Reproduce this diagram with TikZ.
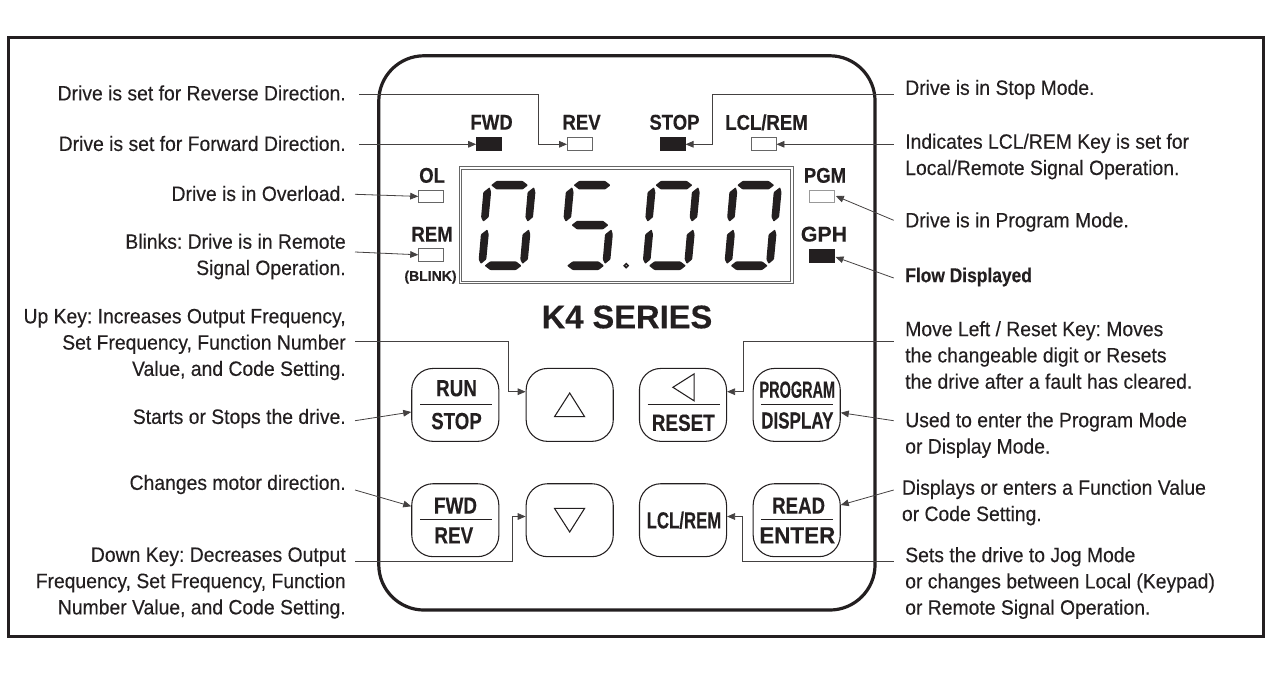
\documentclass[tikz,border=0pt]{standalone}
\usepackage{fontspec}
\setmainfont[FakeStretch=0.93,FakeBold=0.25]{Liberation Sans}
\newfontfamily\widefont[FakeBold=0.3]{Liberation Sans}
\newfontfamily\ledfont[FakeStretch=0.87,FakeBold=0.3]{Liberation Sans}
\usetikzlibrary{positioning,arrows.meta}
\definecolor{ink}{HTML}{231F20}
\newcommand{\sq}[2]{\scalebox{#1}[1]{#2}}
\frenchspacing
\tikzset{
    note/.style={inner sep=0pt,text=ink,font=\fontsize{15.6}{19.7}\selectfont},
    noteL/.style={note,anchor=east,align=right},
    noteR/.style={note,anchor=west,align=left},
    led/.style={draw=black!60,line width=0.6pt,fill=white,minimum width=18.7pt,minimum height=9.6pt,inner sep=0pt},
    ledon/.style={led,draw=ink,fill=ink},
    ledtext/.style={inner sep=0pt,text=ink,font=\ledfont\bfseries\fontsize{16}{16}\selectfont},
    keybox/.style={draw=ink,line width=0.8pt,rounded corners=16pt,minimum width=65.3pt,minimum height=54.7pt,inner sep=0pt},
    keytext/.style={inner sep=0pt,text=ink,font=\widefont\bfseries\fontsize{17.5}{17.5}\selectfont},
    conn/.style={draw=ink!85,line width=0.6pt,-{Triangle[length=6pt,width=5pt]}},
    hseg/.pic={\fill[ink,rounded corners=0.6pt] (-18.5,0) -- (-13,-4.3) -- (13,-4.3) -- (18.5,0) -- (13,4.3) -- (-13,4.3) -- cycle;},
    vseg/.pic={\fill[ink,rounded corners=0.6pt] (3.8,-17) -- (5.2,-12) -- (2.8,13) -- (-2.6,17.5) -- (-4.8,13) -- (-2.6,-12) -- cycle;}
}
\begin{document}
\begin{tikzpicture}[x=0.75pt,y=-0.75pt]
        \useasboundingbox (0,0) rectangle (1271,681);
        \node (frame) at (636.2,337) [draw=ink,line width=2.2pt,minimum width=941.5pt,minimum height=449pt,inner sep=0pt] {};
        \node (panel) at (626.9,332.9) [draw=ink,line width=2.4pt,rounded corners=34pt,minimum width=372.2pt,minimum height=415.7pt,inner sep=0pt] {};
        \node (display) at (626.2,225.4) [draw=black!60,line width=0.7pt,double=white,double distance=1.2pt,minimum width=248.5pt,minimum height=85.8pt,inner sep=0pt] {};

        \foreach \dx in {0,82.5,164.3,246.1} {
            \foreach \px/\py in {509.6/185.2,503.1/265.7}
                \pic at ({\dx+\px},\py) {hseg};
            \foreach \px/\py in {485.9/204.2,525.1/246.4}
                \pic at ({\dx+\px},\py) {vseg};
        }
        \foreach \dx in {0,164.3,246.1} {
            \foreach \px/\py in {530.2/204.2,483.5/246.4}
                \pic at ({\dx+\px},\py) {vseg};
        }
        \pic at (590,225.1) {hseg};
        \draw[ink,line width=1.2pt] (626.2,265.7) circle (1.9);

        \node (fwd) at (489,144.3) [ledon] {};
        \node (rev) at (579.9,144.3) [led] {};
        \node (stop) at (672.7,144.3) [ledon] {};
        \node (lclrem) at (763.6,144.3) [led] {};
        \node (ol) at (431.1,196.4) [led] {};
        \node (rem) at (431.1,254.8) [led] {};
        \node (pgm) at (821.9,196.4) [led,draw=black!40] {};
        \node (gph) at (821.9,255.5) [ledon] {};

        \node (fwdtxt) at (491.6,122.3) [ledtext] {FWD};
        \node (revtxt) at (581.6,122.3) [ledtext] {REV};
        \node (stoptxt) at (674.5,122.3) [ledtext] {STOP};
        \node (lcltxt) at (766.5,122.3) [ledtext] {LCL/REM};
        \node (oltxt) at (432.1,175.4) [ledtext] {OL};
        \node (remtxt) at (432.1,234.2) [ledtext] {REM};
        \node (blinktxt) at (430.5,277.2) [inner sep=0pt,text=ink,font=\widefont\bfseries\fontsize{10.5}{10.5}\selectfont] {(BLINK)};
        \node (pgmtxt) at (825,175.4) [ledtext] {PGM};
        \node (gphtxt) at (824,234.2) [ledtext] {\sq{1.15}{GPH}};
        \node (series) at (627,317) [inner sep=0pt,text=ink,font=\widefont\bfseries\fontsize{24.5}{24.5}\selectfont] {K4 SERIES};

        \node (run) at (455.3,404.9) [keybox] {};
        \node (up) at (569.7,404.9) [keybox] {};
        \node (reset) at (683,404.9) [keybox] {};
        \node (program) at (796.7,404.9) [keybox] {};
        \node (dir) at (455.3,520.2) [keybox] {};
        \node (down) at (569.7,520.2) [keybox] {};
        \node (lclkey) at (683,520.2) [keybox] {};
        \node (read) at (796.7,520.2) [keybox] {};

        \foreach \kx/\ky in {456/404.2,683.5/404.2,797.2/404.2,456/519.8,797.2/519.8}
            \draw[ink,line width=0.5pt] ({\kx-36},\ky) -- ({\kx+36},\ky);
        \draw[ink,line width=0.8pt] (569.7,393) -- (584.6,416.7) -- (554.5,416.7) -- cycle;
        \draw[ink,line width=0.8pt] (569.7,532) -- (584.6,508.4) -- (554.5,508.4) -- cycle;
        \draw[ink,line width=0.8pt] (672.9,387.3) -- (694.2,373.8) -- (694.2,400.9) -- cycle;

        \node (runtxt) at (456.5,388.3) [keytext] {\sq{0.81}{RUN}};
        \node (runstop) at (456.5,421.1) [keytext] {\sq{0.8}{STOP}};
        \node (resettxt) at (683.3,422.8) [keytext] {\sq{0.81}{RESET}};
        \node (progtxt) at (797.3,389.7) [keytext] {\sq{0.62}{PROGRAM}};
        \node (disptxt) at (797.3,420.5) [keytext] {\sq{0.73}{DISPLAY}};
        \node (dirfwd) at (455.5,505.6) [keytext] {\sq{0.81}{FWD}};
        \node (dirrev) at (453.8,535.4) [keytext] {\sq{0.81}{REV}};
        \node (lclkeytxt) at (684,520.2) [keytext] {\sq{0.72}{LCL/REM}};
        \node (readtxt) at (798.6,505.6) [keytext] {\sq{0.8}{READ}};
        \node (entertxt) at (797.3,535.4) [keytext] {\sq{0.96}{ENTER}};

        \node (nrev) at (346,93) [noteL] {Drive is set for Reverse Direction.};
        \node (nfwd) at (346,143.5) [noteL] {Drive is set for Forward Direction.};
        \node (nol) at (346,193.5) [noteL] {Drive is in Overload.};
        \node (nrem) at (346,256.5) [noteL] {Blinks: Drive is in Remote\\Signal Operation.};
        \node (nup) at (346,344.5) [noteL] {Up Key: Increases Output Frequency,\\Set Frequency, Function Number\\Value, and Code Setting.};
        \node (nrun) at (346,418.5) [noteL] {Starts or Stops the drive.};
        \node (ndir) at (346,484.5) [noteL] {Changes motor direction.};
        \node (ndown) at (346,583) [noteL] {Down Key: Decreases Output\\Frequency, Set Frequency, Function\\Number Value, and Code Setting.};
        \node (nstop) at (905,89.5) [noteR] {Drive is in Stop Mode.};
        \node (nlcl) at (905,156.5) [noteR] {Indicates LCL/REM Key is set for\\Local/Remote Signal Operation.};
        \node (npgm) at (905,222) [noteR] {Drive is in Program Mode.};
        \node (ngph) at (905,277) [noteR,font=\ledfont\bfseries\fontsize{15}{19.7}\selectfont] {Flow Displayed};
        \node (nreset) at (905,355) [noteR] {Move Left / Reset Key: Moves\\the changeable digit or Resets\\the drive after a fault has cleared.};
        \node (nprog) at (905,435) [noteR] {Used to enter the Program Mode\\or Display Mode.};
        \node (nread) at (901.7,502.5) [noteR] {Displays or enters a Function Value\\or Code Setting.};
        \node (nlclkey) at (905,583) [noteR] {Sets the drive to Jog Mode\\or changes between Local (Keypad)\\or Remote Signal Operation.};

        \coordinate (erev) at (359,94.5);
        \coordinate (efwd) at (359,144.3);
        \coordinate (eol) at (355,194.3);
        \coordinate (erem) at (355,252);
        \coordinate (eup) at (355,341.7);
        \coordinate (erun) at (355,420.7);
        \coordinate (edir) at (355,490);
        \coordinate (edown) at (355,561.5);
        \coordinate (estop) at (893.7,94.5);
        \coordinate (elcl) at (893.7,144.3);
        \coordinate (epgm) at (893.7,220.3);
        \coordinate (egph) at (893.7,278);
        \coordinate (ereset) at (893.7,341.7);
        \coordinate (eprog) at (893.7,420.7);
        \coordinate (eread) at (893.7,490);
        \coordinate (elclkey) at (893.7,561.5);

        \draw[conn] (erev) -- (538.3,94.5) |- (rev.west);
        \draw[conn] (efwd) -- (fwd.west);
        \draw[conn] (eol) -- (ol.west);
        \draw[conn] (erem) -- (rem.west);
        \draw[conn] (eup) -- (508.2,341.7) |- (up.west |- 0,391.7);
        \draw[conn] (erun) -- (run.west |- 0,412);
        \draw[conn] (edir) -- (dir.west |- 0,506.3);
        \draw[conn] (edown) -- (512.3,561.5) |- (down.west |- 0,516.5);
        \draw[conn] (estop) -- (712.7,94.5) |- (stop.east);
        \draw[conn] (elcl) -- (lclrem.east);
        \draw[conn] (epgm) -- (835.8,196);
        \draw[conn] (egph) -- (835.5,257);
        \draw[conn] (ereset) -- (743.2,341.7) |- (reset.east |- 0,391.7);
        \draw[conn] (eprog) -- (program.east |- 0,412.7);
        \draw[conn] (eread) -- (read.east |- 0,505);
        \draw[conn] (elclkey) -- (742.2,561.5) |- (lclkey.east |- 0,516.5);
    \end{tikzpicture}
\end{document}
